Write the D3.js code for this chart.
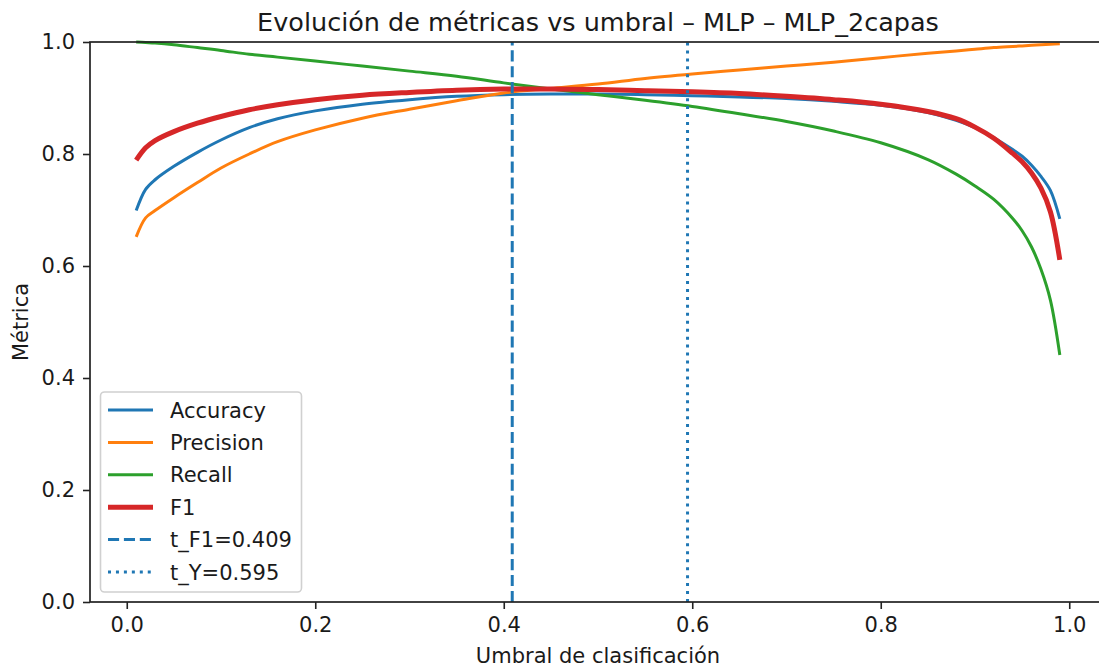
<!DOCTYPE html>
<html>
<head>
<meta charset="utf-8">
<script src="https://cdn.jsdelivr.net/npm/d3@7"></script>
<style>
  body { margin: 0; background: #fff; }
  text { font-family: "DejaVu Sans", sans-serif; fill: #1a1a1a; }
</style>
</head>
<body>
<svg id="svg" width="1099" height="669"></svg>
<script>
const WIDTH = 1099
const HEIGHT = 669

// thresholds and metric values
const thresholds = [0.01, 0.02, 0.03, 0.05, 0.075, 0.1, 0.13, 0.16, 0.2, 0.25, 0.3, 0.35, 0.4, 0.45, 0.5, 0.55, 0.6, 0.65, 0.7, 0.75, 0.8, 0.85, 0.88, 0.9, 0.92, 0.94, 0.95, 0.96, 0.97, 0.98, 0.99]
const accuracy = [0.699, 0.737, 0.754, 0.778, 0.803, 0.825, 0.847, 0.863, 0.877, 0.889, 0.897, 0.903, 0.906, 0.907, 0.907, 0.906, 0.904, 0.902, 0.899, 0.894, 0.887, 0.874, 0.860, 0.847, 0.829, 0.808, 0.796, 0.780, 0.760, 0.735, 0.684]
const precision = [0.652, 0.686, 0.699, 0.722, 0.749, 0.775, 0.800, 0.822, 0.843, 0.864, 0.880, 0.895, 0.909, 0.917, 0.925, 0.935, 0.943, 0.950, 0.957, 0.964, 0.972, 0.980, 0.984, 0.987, 0.990, 0.992, 0.993, 0.994, 0.995, 0.996, 0.997]
const recall = [1.000, 0.999, 0.998, 0.995, 0.990, 0.985, 0.978, 0.973, 0.966, 0.957, 0.948, 0.939, 0.927, 0.916, 0.906, 0.896, 0.885, 0.872, 0.858, 0.841, 0.820, 0.790, 0.764, 0.743, 0.719, 0.685, 0.663, 0.634, 0.594, 0.539, 0.441]
const f1 = [0.789, 0.811, 0.824, 0.840, 0.855, 0.867, 0.879, 0.888, 0.897, 0.905, 0.910, 0.914, 0.916, 0.916, 0.915, 0.913, 0.911, 0.908, 0.903, 0.897, 0.889, 0.876, 0.863, 0.848, 0.828, 0.801, 0.786, 0.766, 0.739, 0.697, 0.611]

const tF1 = 0.409
const tY = 0.595

const xTicks = [0.0, 0.2, 0.4, 0.6, 0.8, 1.0]
const yTicks = [0.0, 0.2, 0.4, 0.6, 0.8, 1.0]

const series = [
  { label: 'Accuracy', values: accuracy, color: '#1f77b4', width: 3 },
  { label: 'Precision', values: precision, color: '#ff7f0e', width: 3 },
  { label: 'Recall', values: recall, color: '#2ca02c', width: 3 },
  { label: 'F1', values: f1, color: '#d62728', width: 5 }
]

const LEFT = 90
const RIGHT = 1106
const TOP = 42
const BOTTOM = 602

const x = d3.scaleLinear().domain([-0.039, 1.039]).range([LEFT, RIGHT])
const y = d3.scaleLinear().domain([0, 1]).range([BOTTOM, TOP])

const SVG = d3.select('#svg')

SVG.append('defs')
  .append('clipPath')
  .attr('id', 'plot-clip')
  .append('rect')
  .attr('x', LEFT)
  .attr('y', TOP - 2)
  .attr('width', RIGHT - LEFT)
  .attr('height', BOTTOM - TOP + 2)

const PLOT = SVG.append('g').attr('clip-path', 'url(#plot-clip)')

const line = d3.line()
  .x((d, i) => x(thresholds[i]))
  .y(d => y(d))
  .curve(d3.curveCatmullRom.alpha(0.5))

PLOT.selectAll('path.metric')
  .data(series)
  .enter()
  .append('path')
  .attr('class', 'metric')
  .attr('d', d => line(d.values))
  .attr('fill', 'none')
  .attr('stroke', d => d.color)
  .attr('stroke-width', d => d.width)
  .attr('stroke-linejoin', 'round')

// threshold markers
PLOT.append('line')
  .attr('x1', x(tF1)).attr('x2', x(tF1))
  .attr('y1', y(0)).attr('y2', y(1))
  .attr('stroke', '#1f77b4')
  .attr('stroke-width', 3)
  .attr('stroke-dasharray', '11.1,4.8')

PLOT.append('line')
  .attr('x1', x(tY)).attr('x2', x(tY))
  .attr('y1', y(0)).attr('y2', y(1))
  .attr('stroke', '#1f77b4')
  .attr('stroke-width', 3)
  .attr('stroke-dasharray', '3,4.95')

// axes
const xAxis = d3.axisBottom(x)
  .tickValues(xTicks)
  .tickFormat(d3.format('.1f'))
  .tickSize(7)
  .tickPadding(8)

const yAxis = d3.axisLeft(y)
  .tickValues(yTicks)
  .tickFormat(d3.format('.1f'))
  .tickSize(7)
  .tickPadding(8)

const X_G = SVG.append('g')
  .attr('transform', `translate(0, ${BOTTOM})`)
  .call(xAxis)

const Y_G = SVG.append('g')
  .attr('transform', `translate(${LEFT}, 0)`)
  .call(yAxis)

for (const g of [X_G, Y_G]) {
  g.select('.domain').remove()
  g.selectAll('.tick line').attr('stroke', '#222').attr('stroke-width', 1.6)
  g.selectAll('.tick text')
    .attr('font-size', 21)
    .attr('font-family', '"DejaVu Sans", sans-serif')
    .attr('fill', '#1a1a1a')
}

// spines
SVG.append('rect')
  .attr('x', LEFT)
  .attr('y', TOP)
  .attr('width', RIGHT - LEFT)
  .attr('height', BOTTOM - TOP)
  .attr('fill', 'none')
  .attr('stroke', '#222')
  .attr('stroke-width', 1.7)

// labels
SVG.append('text')
  .text('Evolución de métricas vs umbral – MLP – MLP_2capas')
  .attr('x', (LEFT + RIGHT) / 2)
  .attr('y', 31)
  .attr('text-anchor', 'middle')
  .attr('font-size', 25.5)

SVG.append('text')
  .text('Umbral de clasificación')
  .attr('x', (LEFT + RIGHT) / 2)
  .attr('y', 663)
  .attr('text-anchor', 'middle')
  .attr('font-size', 21)

SVG.append('text')
  .text('Métrica')
  .attr('transform', `translate(28, ${(TOP + BOTTOM) / 2}) rotate(-90)`)
  .attr('text-anchor', 'middle')
  .attr('font-size', 21)

// legend
const legendItems = [
  { label: 'Accuracy', color: '#1f77b4', width: 3, dash: null },
  { label: 'Precision', color: '#ff7f0e', width: 3, dash: null },
  { label: 'Recall', color: '#2ca02c', width: 3, dash: null },
  { label: 'F1', color: '#d62728', width: 5, dash: null },
  { label: `t_F1=${tF1.toFixed(3)}`, color: '#1f77b4', width: 3, dash: '11.1,4.8' },
  { label: `t_Y=${tY.toFixed(3)}`, color: '#1f77b4', width: 3, dash: '3,4.95' }
]

const LEGEND = SVG.append('g')

LEGEND.append('rect')
  .attr('x', 100.5)
  .attr('y', 392)
  .attr('width', 201)
  .attr('height', 200)
  .attr('rx', 4)
  .attr('fill', 'white')
  .attr('fill-opacity', 0.8)
  .attr('stroke', '#d0d0d0')
  .attr('stroke-width', 1.6)

LEGEND.selectAll('line')
  .data(legendItems)
  .enter()
  .append('line')
  .attr('x1', 108)
  .attr('x2', 153)
  .attr('y1', (d, i) => 410 + i * 32.4)
  .attr('y2', (d, i) => 410 + i * 32.4)
  .attr('stroke', d => d.color)
  .attr('stroke-width', d => d.width)
  .attr('stroke-dasharray', d => d.dash)

LEGEND.selectAll('text')
  .data(legendItems)
  .enter()
  .append('text')
  .text(d => d.label)
  .attr('x', 170)
  .attr('y', (d, i) => 410 + i * 32.4 + 7.6)
  .attr('font-size', 21)
</script>
</body>
</html>
